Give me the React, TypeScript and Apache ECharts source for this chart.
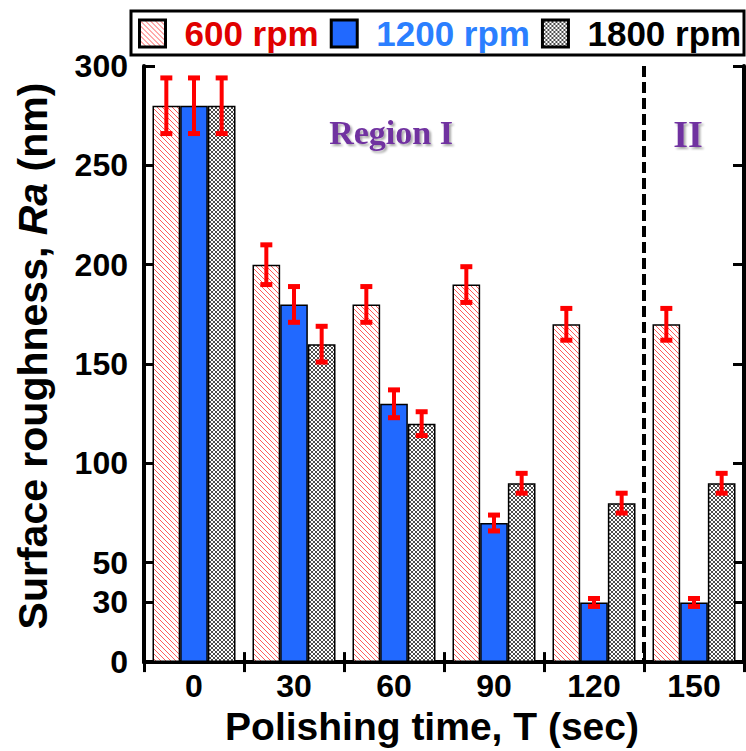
import React, { useEffect, useRef } from "react";
import * as echarts from "echarts";

const categories = ["0", "30", "60", "90", "120", "150"];
const seriesNames = ["600 rpm", "1200 rpm", "1800 rpm"];
const rpm600 = [280, 200, 180, 190, 170, 170];
const rpm1200 = [280, 180, 130, 70, 30, 30];
const rpm1800 = [280, 160, 120, 90, 80, 90];
const err600 = [14, 10, 9, 9, 8, 8];
const err1200 = [14, 9, 7, 4, 2, 2];
const err1800 = [14, 9, 6, 5, 5, 5];
const yTickValues = [0, 30, 50, 100, 150, 200, 250, 300];
const regionBoundaryIndex = 4; // boundary after "120"

const SANS = "'Liberation Sans', Arial, sans-serif";
const SERIF = "'Liberation Serif', 'Times New Roman', serif";

function makeHatch(): HTMLCanvasElement {
  const n = 5;
  const c = document.createElement("canvas");
  c.width = n;
  c.height = n;
  const ctx = c.getContext("2d")!;
  ctx.fillStyle = "#ffffff";
  ctx.fillRect(0, 0, n, n);
  ctx.strokeStyle = "#ff5a5a";
  ctx.lineWidth = 1;
  for (let k = -1; k <= 1; k++) {
    ctx.beginPath();
    ctx.moveTo(-1, -1 + k * n);
    ctx.lineTo(n + 1, n + 1 + k * n);
    ctx.stroke();
  }
  return c;
}

function makeCross(): HTMLCanvasElement {
  const n = 4;
  const c = document.createElement("canvas");
  c.width = n;
  c.height = n;
  const ctx = c.getContext("2d")!;
  ctx.fillStyle = "#ffffff";
  ctx.fillRect(0, 0, n, n);
  ctx.strokeStyle = "#000000";
  ctx.lineWidth = 0.7;
  for (let k = -1; k <= 1; k++) {
    ctx.beginPath();
    ctx.moveTo(-1, -1 + k * n);
    ctx.lineTo(n + 1, n + 1 + k * n);
    ctx.stroke();
    ctx.beginPath();
    ctx.moveTo(-1, n + 1 + k * n);
    ctx.lineTo(n + 1, -1 + k * n);
    ctx.stroke();
  }
  return c;
}

export default function App() {
  const ref = useRef<HTMLDivElement>(null);
  useEffect(() => {
    if (!ref.current) return;
    const chart = echarts.init(ref.current, null, { renderer: "svg" });
    const hatch = makeHatch();
    const cross = makeCross();
    const colors: any[] = [
      { image: hatch, repeat: "repeat", imageWidth: hatch.width, imageHeight: hatch.height },
      "#2169ff",
      { image: cross, repeat: "repeat", imageWidth: cross.width, imageHeight: cross.height },
    ];
    const values = [rpm600, rpm1200, rpm1800];
    const errs = [err600, err1200, err1800];
    const errData: number[][] = [];
    for (let s = 0; s < 3; s++) {
      for (let i = 0; i < categories.length; i++) {
        errData.push([i, values[s][i], errs[s][i], s]);
      }
    }
    const barCategoryGap = 0.17;

    const yAxisCommon = {
      type: "value",
      min: 0,
      max: 300,
      splitLine: { show: false },
      axisLine: { show: true, lineStyle: { color: "#000", width: 4 } },
      axisTick: {
        show: true,
        inside: true,
        length: 11,
        customValues: yTickValues,
        lineStyle: { color: "#000", width: 3 },
      },
    };

    const option: any = {
      animation: false,
      backgroundColor: "#ffffff",
      grid: { left: 144, right: 2, top: 66, bottom: 84, containLabel: false },
      legend: {
        left: 138,
        top: 16,
        width: 640,
        padding: 0,
        itemWidth: 26,
        itemHeight: 27,
        itemGap: 11,
        icon: "rect",
        selectedMode: false,
        itemStyle: { borderColor: "#000", borderWidth: 3 },
        textStyle: {
          fontFamily: SANS,
          fontWeight: "bold",
          fontSize: 35,
          padding: [0, 0, 0, 14],
        },
        data: [
          { name: seriesNames[0], textStyle: { color: "#e00000" } },
          { name: seriesNames[1], textStyle: { color: "#2b7fff" } },
          { name: seriesNames[2], textStyle: { color: "#000000" } },
        ],
      },
      graphic: [
        {
          type: "rect",
          shape: { x: 131, y: 11, width: 613, height: 44 },
          style: { fill: "none", stroke: "#000", lineWidth: 3 },
          z: 0,
        },
        {
          type: "text",
          x: 391,
          y: 132,
          style: {
            text: "Region I",
            fill: "#7030a0",
            font: `bold 34px ${SERIF}`,
            textAlign: "center",
            textVerticalAlign: "middle",
            textShadowColor: "rgba(0,0,0,0.35)",
            textShadowBlur: 2,
            textShadowOffsetX: 2,
            textShadowOffsetY: 2,
          },
          z: 10,
        },
        {
          type: "text",
          x: 688,
          y: 134,
          style: {
            text: "II",
            fill: "#7030a0",
            font: `bold 38px ${SERIF}`,
            textAlign: "center",
            textVerticalAlign: "middle",
            textShadowColor: "rgba(0,0,0,0.35)",
            textShadowBlur: 2,
            textShadowOffsetX: 2,
            textShadowOffsetY: 2,
          },
          z: 10,
        },
      ],
      xAxis: [
        {
          type: "category",
          data: categories,
          position: "bottom",
          boundaryGap: true,
          name: "Polishing time, T (sec)",
          nameLocation: "middle",
          nameGap: 38,
          nameTextStyle: {
            fontFamily: SANS,
            fontWeight: "bold",
            fontSize: 39,
            color: "#000",
            padding: [0, 24, 0, 0],
          },
          axisLine: { show: true, lineStyle: { color: "#000", width: 4 } },
          axisTick: { show: true, inside: true, length: 10, lineStyle: { color: "#000", width: 3 } },
          axisLabel: {
            margin: 8,
            fontFamily: SANS,
            fontWeight: "bold",
            fontSize: 32,
            color: "#000",
          },
          splitLine: { show: false },
        },
        {
          type: "category",
          data: categories,
          position: "top",
          boundaryGap: true,
          axisLine: { show: true, lineStyle: { color: "#000", width: 4 } },
          axisTick: { show: true, inside: true, length: 10, lineStyle: { color: "#000", width: 3 } },
          axisLabel: { show: false },
          splitLine: { show: false },
        },
      ],
      yAxis: [
        {
          ...yAxisCommon,
          position: "left",
          name: "Surface roughness, {i|Ra} (nm)",
          nameLocation: "middle",
          nameGap: 91,
          nameRotate: 90,
          nameTextStyle: {
            fontFamily: SANS,
            fontWeight: "bold",
            fontSize: 41,
            color: "#000",
            padding: [0, 0, 0, 16],
            rich: {
              i: { fontFamily: SANS, fontWeight: "bold", fontStyle: "italic", fontSize: 41, color: "#000" },
            },
          },
          axisLabel: {
            show: true,
            margin: 16,
            customValues: yTickValues,
            fontFamily: SANS,
            fontWeight: "bold",
            fontSize: 32,
            color: "#000",
          },
        },
        {
          ...yAxisCommon,
          position: "right",
          axisLabel: { show: false, customValues: yTickValues },
        },
      ],
      series: [
        ...seriesNames.map((name, s) => ({
          name,
          type: "bar",
          xAxisIndex: 0,
          yAxisIndex: 0,
          data: values[s],
          barGap: "0%",
          barCategoryGap: barCategoryGap * 100 + "%",
          itemStyle: { color: colors[s], borderColor: "#000", borderWidth: 1.5 },
          emphasis: { disabled: true },
          z: 2,
        })),
        {
          type: "custom",
          name: "error",
          xAxisIndex: 0,
          yAxisIndex: 0,
          data: errData,
          z: 5,
          renderItem: (params: any, api: any) => {
            const i = api.value(0);
            const v = api.value(1);
            const e = api.value(2);
            const s = api.value(3);
            const catW = api.size([1, 0])[0];
            const bw = (catW * (1 - barCategoryGap)) / 3;
            const cx = api.coord([i, v])[0] + (s - 1) * bw;
            const yTop = api.coord([i, v + e])[1];
            const yBot = api.coord([i, v - e])[1];
            const capW = 12;
            const capH = 5;
            const red = "#ff0000";
            return {
              type: "group",
              children: [
                { type: "rect", shape: { x: cx - 2, y: yTop, width: 4, height: yBot - yTop }, style: { fill: red } },
                { type: "rect", shape: { x: cx - capW / 2, y: yTop - capH / 2, width: capW, height: capH }, style: { fill: red } },
                { type: "rect", shape: { x: cx - capW / 2, y: yBot - capH / 2, width: capW, height: capH }, style: { fill: red } },
              ],
            };
          },
        },
        {
          type: "custom",
          name: "boundary",
          xAxisIndex: 0,
          yAxisIndex: 0,
          data: [[regionBoundaryIndex, 0]],
          z: 4,
          renderItem: (params: any, api: any) => {
            const catW = api.size([1, 0])[0];
            const x = api.coord([api.value(0), 0])[0] + catW / 2;
            const y0 = api.coord([api.value(0), 0])[1];
            const y1 = api.coord([api.value(0), 300])[1];
            return {
              type: "line",
              shape: { x1: x, y1: y1, x2: x, y2: y0 },
              style: { stroke: "#000", lineWidth: 4, lineDash: [11, 5] },
            };
          },
        },
      ],
    };
    chart.setOption(option);
    return () => chart.dispose();
  }, []);
  return <div ref={ref} style={{ width: 746, height: 751, position: "absolute", left: 0, top: 0 }} />;
}
